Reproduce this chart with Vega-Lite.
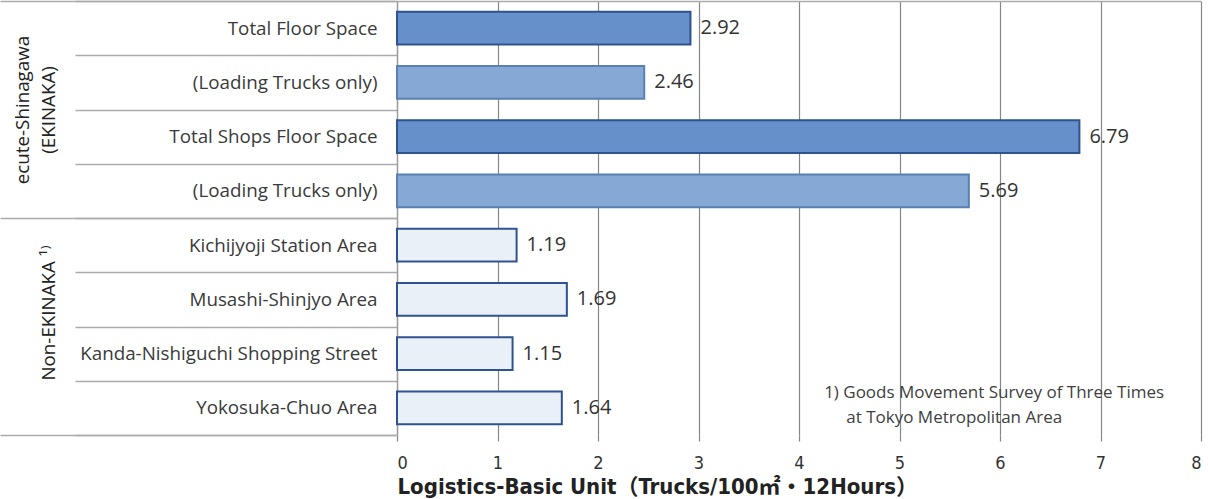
{
  "$schema": "https://vega.github.io/schema/vega-lite/v6.json",
  "width": 804,
  "height": 434,
  "autosize": {"type": "none"},
  "padding": {"left": 397, "top": 1, "right": 7, "bottom": 64},
  "background": "white",
  "config": {"view": {"stroke": null}, "font": "Open Sans"},
  "data": {
    "values": [
      {"cat": "Total Floor Space|1", "g": "EK", "v": 2.92, "t": "dark"},
      {"cat": "(Loading Trucks only)|2", "g": "EK", "v": 2.46, "t": "light"},
      {"cat": "Total Shops Floor Space|3", "g": "EK", "v": 6.79, "t": "dark"},
      {"cat": "(Loading Trucks only)|4", "g": "EK", "v": 5.69, "t": "light"},
      {"cat": "Kichijyoji Station Area|5", "g": "NE", "v": 1.19, "t": "dot"},
      {"cat": "Musashi-Shinjyo Area|6", "g": "NE", "v": 1.69, "t": "dot"},
      {"cat": "Kanda-Nishiguchi Shopping Street|7", "g": "NE", "v": 1.15, "t": "dot"},
      {"cat": "Yokosuka-Chuo Area|8", "g": "NE", "v": 1.64, "t": "dot"}
    ]
  },
  "resolve": {"scale": {"x": "independent", "y": "independent"}},
  "layer": [
    {
      "layer": [
        {
          "mark": {"type": "bar", "height": {"band": 0.6}, "strokeWidth": 2},
          "encoding": {
            "y": {
              "field": "cat", "type": "nominal", "sort": null,
              "scale": {"paddingInner": 0, "paddingOuter": 0},
              "axis": {
                "title": null, "orient": "left", "tickBand": "extent", "tickSize": 322,
                "tickColor": "#ababab", "tickWidth": 1.3, "domainColor": "#9a9a9a", "domainWidth": 1.3,
                "labelExpr": "datum.label ? split(datum.label, '|')[0] : ''", "labelPadding": -302,
                "labelFont": "Open Sans", "labelFontSize": 18.8, "labelColor": "#3a3a3a",
                "labelAlign": "right", "labelBaseline": "middle", "labelLimit": 400
              }
            },
            "x": {
              "field": "v", "type": "quantitative",
              "scale": {"domain": [0, 8], "nice": false},
              "axis": {
                "title": "Logistics-Basic Unit（Trucks/100㎡・12Hours）",
                "titleAnchor": "start", "titleAlign": "left",
                "values": [0, 1, 2, 3, 4, 5, 6, 7, 8], "format": "d",
                "grid": true, "gridColor": "#878787", "gridWidth": 1.2,
                "domain": false, "tickColor": "#878787", "tickSize": 6, "tickWidth": 1.2,
                "labelFont": "DejaVu Sans Condensed, Roboto, sans-serif", "labelFontSize": 18, "labelColor": "#333333", "labelPadding": 13,
                "titleFont": "DejaVu Sans Condensed, Roboto, Noto Sans CJK JP, sans-serif", "titleFontWeight": "bold", "titleFontSize": 22, "titleColor": "#222222", "titlePadding": 4
              }
            },
            "fill": {
              "field": "t", "type": "nominal",
              "scale": {"domain": ["dark", "light", "dot"], "range": ["#6690c9", "#86a8d4", "#eaf0f7"]},
              "legend": null
            },
            "stroke": {
              "field": "t", "type": "nominal",
              "scale": {"domain": ["dark", "light", "dot"], "range": ["#2e5390", "#5a7fb3", "#2e5390"]},
              "legend": null
            }
          }
        },
        {
          "mark": {"type": "text", "align": "left", "baseline": "middle", "dx": 10, "font": "Open Sans", "fontSize": 20, "color": "#333333"},
          "encoding": {
            "y": {"field": "cat", "type": "nominal", "sort": null},
            "x": {"field": "v", "type": "quantitative"},
            "text": {"field": "v", "type": "quantitative", "format": ".2f"}
          }
        },
        {
          "transform": [{"filter": "datum.cat == 'Yokosuka-Chuo Area|8'"}],
          "mark": {
            "type": "text", "text": "1) Goods Movement Survey of Three Times",
            "align": "left", "baseline": "middle", "dy": -15,
            "font": "Open Sans", "fontSize": 17, "color": "#404040"
          },
          "encoding": {
            "y": {"field": "cat", "type": "nominal", "sort": null},
            "x": {"datum": 4.25, "type": "quantitative"}
          }
        },
        {
          "transform": [{"filter": "datum.cat == 'Yokosuka-Chuo Area|8'"}],
          "mark": {
            "type": "text", "text": "at Tokyo Metropolitan Area",
            "align": "left", "baseline": "middle", "dy": 10,
            "font": "Open Sans", "fontSize": 17, "color": "#404040"
          },
          "encoding": {
            "y": {"field": "cat", "type": "nominal", "sort": null},
            "x": {"datum": 4.47, "type": "quantitative"}
          }
        }
      ]
    },
    {
      "mark": {"type": "bar", "opacity": 0},
      "encoding": {
        "y": {
          "field": "g", "type": "nominal", "sort": null,
          "scale": {"paddingInner": 0, "paddingOuter": 0},
          "axis": {
            "title": null, "orient": "left", "tickBand": "extent", "tickSize": 397,
            "tickColor": "#ababab", "tickWidth": 1.3, "domain": false,
            "labelExpr": "datum.value == 'EK' ? ['ecute-Shinagawa', '(EKINAKA)'] : datum.value == 'NE' ? ['', '\u2800\u2800Non-EKINAKA ¹⁾'] : ''",
            "labelAngle": -90, "labelAlign": "center", "labelBaseline": "middle",
            "labelPadding": -22, "labelLineHeight": 26,
            "labelFont": "Open Sans", "labelFontSize": 18.8, "labelColor": "#222222", "labelLimit": 400
          }
        },
        "x": {
          "field": "v", "type": "quantitative", "stack": null,
          "scale": {"domain": [0, 8], "nice": false},
          "axis": {"orient": "top", "title": null, "labels": false, "ticks": false, "grid": false, "domain": true, "domainColor": "#ababab", "domainWidth": 1.3}
        }
      }
    }
  ]
}
